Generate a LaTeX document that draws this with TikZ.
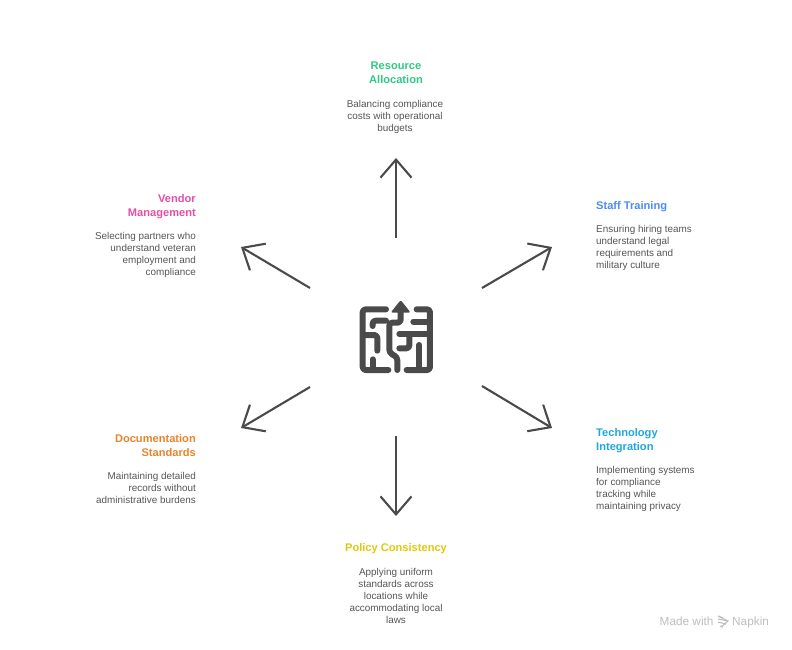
\documentclass[tikz,border=0pt]{standalone}
\usepackage{fontspec}
\setmainfont{Liberation Sans}
\usetikzlibrary{arrows.meta}
\definecolor{cGreen}{HTML}{2FC983}
\definecolor{cBlue}{HTML}{4C8BF5}
\definecolor{cCyan}{HTML}{1EA7DC}
\definecolor{cYellow}{HTML}{E2C70F}
\definecolor{cOrange}{HTML}{E8842C}
\definecolor{cPink}{HTML}{E44FA6}
\definecolor{cBody}{HTML}{555555}
\definecolor{cDark}{HTML}{4A4A4A}
\definecolor{cMark}{HTML}{BDBDBD}
\tikzset{
  x=1pt,y=-1pt,
  head/.style={inner sep=0pt,font=\fontsize{11.1}{14}\selectfont\bfseries},
  desc/.style={inner sep=0pt,text=cBody,font=\fontsize{9.9}{12}\selectfont},
  spoke/.style={draw=cDark,line width=2.1pt,-{Straight Barb[length=18pt,width=31pt,line width=2.1pt]}},
  maze/.style={draw=cDark,line width=6pt,line cap=round,line join=round,rounded corners=3pt},
  wmark/.style={inner sep=0pt,text=cMark,font=\fontsize{11.8}{14}\selectfont},
}
\begin{document}
\begin{tikzpicture}
\useasboundingbox (0,0) rectangle (792,649);
% centre icon
\begin{scope}[shift={(340,280)},x=0.3333pt,y=-0.3333pt]
  \draw[maze] (138,88) -- (68,88) -- (68,270) -- (145,270);
  \draw[maze] (98,270) -- (98,238);
  \draw[maze] (72,165) -- (112,165) -- (112,212);
  \draw[maze] (98,138) -- (98,122) -- (138,122);
  \draw[maze] (182,90) -- (182,128) -- (148,128) -- (148,218) -- (172,232) -- (172,270);
  \fill[cDark,rounded corners=2pt] (182,60) -- (212,98) -- (152,98) -- cycle;
  \draw[maze] (230,88) -- (270,88) -- (270,270) -- (200,270);
  \draw[maze] (220,125) -- (270,125);
  \draw[maze] (178,162) -- (270,162);
  \draw[maze] (208,162) -- (208,205) -- (178,205);
  \draw[maze] (238,195) -- (238,270);
\end{scope}
% spokes
\coordinate (upA) at (396,238);   \coordinate (upB) at (396,158);
\coordinate (urA) at (482,288);   \coordinate (urB) at (552,247);
\coordinate (drA) at (482,386);   \coordinate (drB) at (552,428);
\coordinate (dnA) at (396,436);   \coordinate (dnB) at (396,516);
\coordinate (dlA) at (310,387);   \coordinate (dlB) at (241,428);
\coordinate (ulA) at (310,288);   \coordinate (ulB) at (241,247);
\draw[spoke] (upA) -- (upB);
\draw[spoke] (urA) -- (urB);
\draw[spoke] (drA) -- (drB);
\draw[spoke] (dnA) -- (dnB);
\draw[spoke] (dlA) -- (dlB);
\draw[spoke] (ulA) -- (ulB);
% labels
\node[head,text=cGreen,align=center,anchor=north] (h1) at (396,62) {Resource\\Allocation};
\node[desc,align=center,anchor=north] (d1) at (395,100.5) {Balancing compliance\\costs with operational\\budgets};
\node[head,text=cBlue,align=left,anchor=north west] (h2) at (596,201) {Staff Training};
\node[desc,align=left,anchor=north west] (d2) at (596,225.5) {Ensuring hiring teams\\understand legal\\requirements and\\military culture};
\node[head,text=cCyan,align=left,anchor=north west] (h3) at (596,428) {Technology\\Integration};
\node[desc,align=left,anchor=north west] (d3) at (596,466.5) {Implementing systems\\for compliance\\tracking while\\maintaining privacy};
\node[head,text=cYellow,align=center,anchor=north] (h4) at (396,543) {Policy Consistency};
\node[desc,align=center,anchor=north] (d4) at (396,568.5) {Applying uniform\\standards across\\locations while\\accommodating local\\laws};
\node[head,text=cOrange,align=right,anchor=north east] (h5) at (196,434) {Documentation\\Standards};
\node[desc,align=right,anchor=north east] (d5) at (196,472.5) {Maintaining detailed\\records without\\administrative burdens};
\node[head,text=cPink,align=right,anchor=north east] (h6) at (196,194) {Vendor\\Management};
\node[desc,align=right,anchor=north east] (d6) at (196,232.5) {Selecting partners who\\understand veteran\\employment and\\compliance};
% watermark
\node[wmark,anchor=base west] (m1) at (659.5,625) {Made with};
\node[wmark,anchor=base west] (m2) at (732,625) {Napkin};
\begin{scope}[draw=cMark,line width=1.1pt]
  \draw (718,616) -- (723,618);
  \draw (718,619) -- (728,621);
  \draw (718,622) -- (726,624);
  \draw (720,626) -- (723,627);
  \draw (718,616) -- (728,621) -- (721,627);
\end{scope}
\end{tikzpicture}
\end{document}
